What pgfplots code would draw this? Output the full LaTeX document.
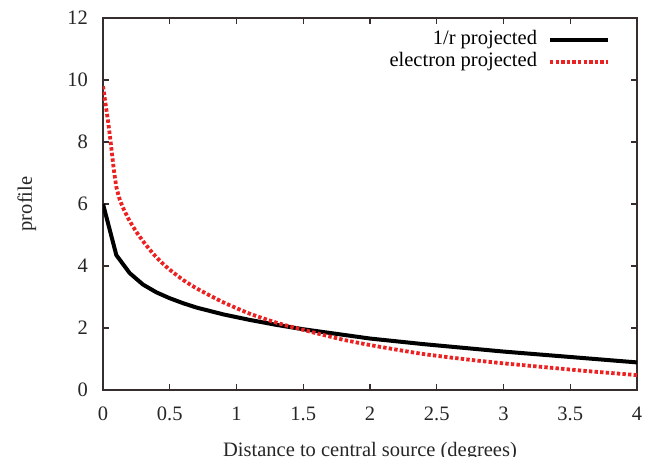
\documentclass[border=0pt]{standalone}
\usepackage{pgfplots}
\pgfplotsset{compat=1.18}
\usepackage{fontspec}
\setmainfont{Liberation Serif}
\definecolor{axcol}{RGB}{55,45,45}
\definecolor{myred}{RGB}{236,34,34}
\pgfplotstableread{
x y
0 6.0
0.1 4.35
0.2 3.77
0.3 3.40
0.4 3.15
0.5 2.96
0.6 2.80
0.7 2.66
0.8 2.55
0.9 2.44
1.0 2.35
1.1 2.26
1.2 2.18
1.3 2.10
1.4 2.03
1.5 1.96
1.6 1.90
1.7 1.84
1.8 1.78
1.9 1.72
2.0 1.66
2.2 1.57
2.4 1.48
2.6 1.40
2.8 1.32
3.0 1.24
3.2 1.17
3.4 1.10
3.6 1.03
3.8 0.96
4.0 0.89
}\blacktab
\pgfplotstableread{
x y
0 9.8
0.02 9.2
0.04 8.6
0.06 7.9
0.08 7.15
0.1 6.55
0.125 6.15
0.15 5.88
0.175 5.66
0.2 5.45
0.25 5.1
0.3 4.8
0.35 4.53
0.4 4.28
0.45 4.07
0.5 3.88
0.6 3.55
0.7 3.28
0.8 3.05
0.9 2.83
1.0 2.64
1.1 2.46
1.2 2.31
1.3 2.17
1.4 2.05
1.5 1.94
1.6 1.83
1.8 1.62
2.0 1.45
2.2 1.30
2.4 1.16
2.6 1.05
2.8 0.95
3.0 0.86
3.2 0.78
3.4 0.70
3.6 0.62
3.8 0.55
4.0 0.48
}\redtab
\begin{document}
\begin{tikzpicture}
\begin{axis}[
  name=ax,
  scale only axis,
  width=534bp, height=372bp,
  xmin=0, xmax=4, ymin=0, ymax=12,
  xtick={0,0.5,1,1.5,2,2.5,3,3.5,4},
  xticklabels={0,0.5,1,1.5,2,2.5,3,3.5,4},
  ytick={0,2,4,6,8,10,12},
  /pgf/number format/assume math mode=true,
  tick align=inside,
  major tick length=6bp,
  axis line style={axcol, line width=1.2bp},
  every tick/.style={axcol, line width=1.2bp},
  tick label style={font=\fontsize{20.5bp}{24bp}\selectfont, text=black!85},
  xticklabel style={anchor=north, inner sep=0pt, yshift=-17bp},
  yticklabel style={anchor=east, inner sep=0pt, xshift=-15bp},
  label style={font=\fontsize{20.5bp}{24bp}\selectfont, text=black!85},
  xlabel={Distance to central source (degrees)},
  ylabel={profile},
  xlabel style={at={(axis description cs:0.5,0)}, anchor=base, inner sep=0pt, yshift=-66bp},
  ylabel style={at={(axis description cs:-0.133,0.5)}, anchor=base, inner sep=0pt},
  legend cell align=right,
  legend plot pos=right,
  legend image code/.code={\draw[#1] (0bp,0bp) -- (58bp,0bp);},
  legend style={draw=none, fill=none, at={(rel axis cs:1,1)}, anchor=north east, xshift=-27bp, yshift=-12bp,
    font=\fontsize{20.5bp}{24bp}\selectfont, inner sep=0pt, outer sep=0pt,
    nodes={inner sep=1bp, text height=14bp, text depth=4bp},
    row sep=1.7bp, column sep=10bp},
]
\addplot[black, line width=4bp, line join=round] table {\blacktab};
\addlegendentry{1/r projected}
\addplot[myred, line width=3.8bp, dash pattern=on 3.4bp off 2.2bp, smooth, tension=0.3] table {\redtab};
\addlegendentry{electron projected}
\end{axis}
\pgfresetboundingbox
\path[use as bounding box] ([xshift=-103bp,yshift=-67bp]ax.south west) rectangle ([xshift=16bp,yshift=18bp]ax.north east);
\end{tikzpicture}
\end{document}
